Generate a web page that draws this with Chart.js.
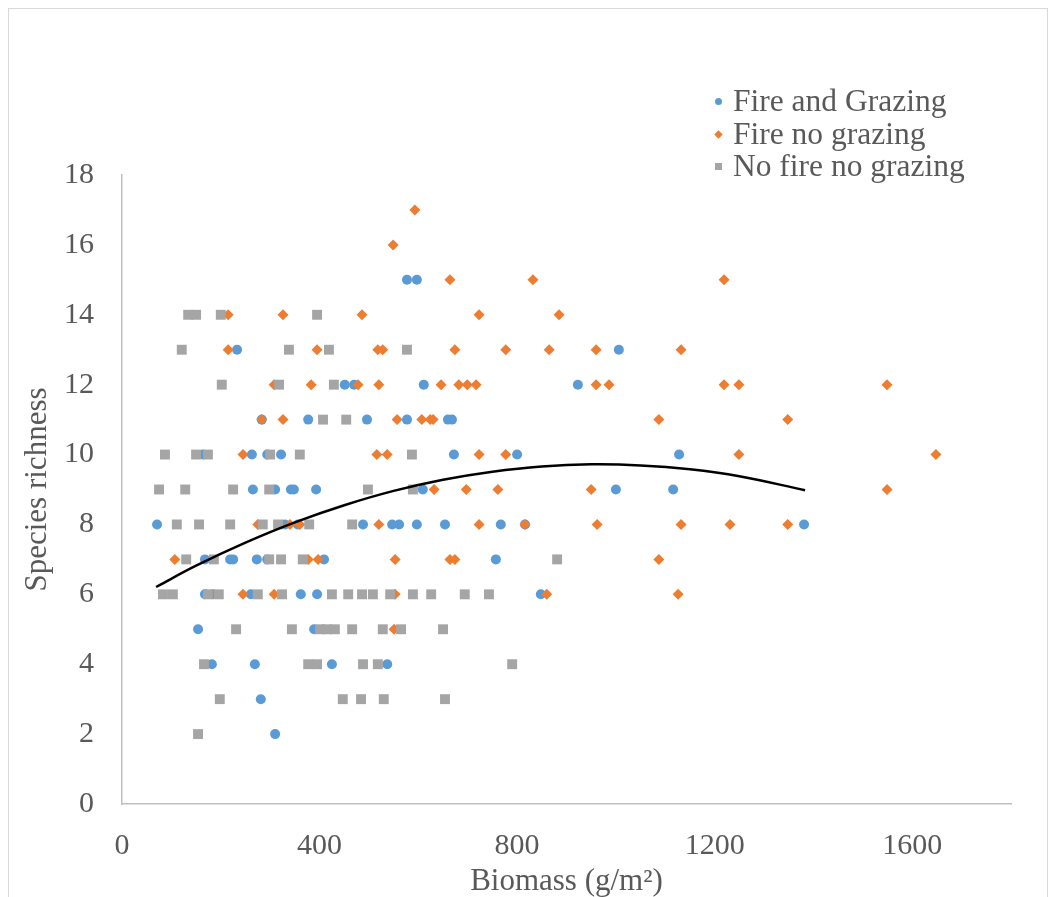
<!DOCTYPE html>
<html>
<head>
<meta charset="utf-8">
<script src="https://cdn.jsdelivr.net/npm/chart.js@4/dist/chart.umd.min.js"></script>
<style>
  body { margin: 0; background: #fff; }
  #wrap { position: relative; width: 1049px; height: 897px; overflow: hidden; }
  #frame { position: absolute; left: 8px; top: 8px; width: 1040px; height: 900px; border: 1px solid #d9d9d9; box-sizing: border-box; }
  #chart { position: absolute; left: 0; top: 0; }
  #legend { position: absolute; left: 710px; top: 85px; font: 31.5px "Liberation Serif", "Times New Roman", serif; color: #595959; }
  .row { position: relative; height: 32.5px; line-height: 32.5px; padding-left: 23px; white-space: nowrap; }
  .mk { position: absolute; left: 5px; top: 13px; width: 7px; height: 7px; }
  .mk.circle { background: #5B9BD5; border-radius: 50%; }
  .mk.diamond { background: #ED7D31; transform: rotate(45deg) scale(0.85); }
  .mk.square { background: #A5A5A5; }
</style>
</head>
<body>
<div id="wrap">
  <div id="frame"></div>
  <canvas id="chart" width="1049" height="897"></canvas>
  <div id="legend">
    <div class="row"><span class="mk circle"></span>Fire and Grazing</div>
    <div class="row"><span class="mk diamond"></span>Fire no grazing</div>
    <div class="row"><span class="mk square"></span>No fire no grazing</div>
  </div>
</div>
<script>
/* =========================
   Data (biomass g/m2, species richness)
========================= */
const fireGrazingX = [577, 597, 233, 1006, 451, 470, 611, 923,
  283, 377, 496, 577, 660, 668, 164, 263, 294, 322, 672, 800, 1128,
  265, 310, 342, 348, 393, 609, 1000, 1116,
  71, 330, 356, 488, 547, 561, 597, 654, 767, 816, 1381,
  168, 219, 225, 273, 294, 409, 757, 168, 184, 261, 362, 395, 848,
  154, 389, 182, 269, 425, 537, 281, 310];
const fireGrazingY = [15, 15, 13, 13, 12, 12, 12, 12,
  11, 11, 11, 11, 11, 11, 10, 10, 10, 10, 10, 10, 10,
  9, 9, 9, 9, 9, 9, 9, 9,
  8, 8, 8, 8, 8, 8, 8, 8, 8, 8, 8,
  7, 7, 7, 7, 7, 7, 7, 6, 6, 6, 6, 6, 6,
  5, 5, 4, 4, 4, 4, 3, 2];

const fireNoGrazingX = [593, 549, 664, 832, 1219,
  215, 326, 486, 723, 885,
  215, 395, 518, 528, 674, 777, 865, 960, 1132,
  308, 383, 478, 520, 646, 682, 699, 717, 960, 986, 1219, 1249, 1549,
  283, 326, 557, 607, 624, 630, 1087, 1348,
  245, 516, 537, 723, 777, 1249, 1648,
  632, 697, 761, 950, 1549,
  275, 340, 360, 520, 723, 816, 962, 1132, 1231, 1348,
  107, 377, 397, 553, 664, 674, 1087,
  245, 308, 553, 860, 1126, 551];
const fireNoGrazingY = [17, 16, 15, 15, 15,
  14, 14, 14, 14, 14,
  13, 13, 13, 13, 13, 13, 13, 13, 13,
  12, 12, 12, 12, 12, 12, 12, 12, 12, 12, 12, 12, 12,
  11, 11, 11, 11, 11, 11, 11, 11,
  10, 10, 10, 10, 10, 10, 10,
  9, 9, 9, 9, 9,
  8, 8, 8, 8, 8, 8, 8, 8, 8, 8,
  7, 7, 7, 7, 7, 7, 7,
  6, 6, 6, 6, 6, 5];

const noFireX = [134, 150, 200, 395, 121, 338, 419, 577,
  202, 318, 429, 407, 454,
  87, 150, 174, 300, 360, 587,
  75, 128, 225, 298, 498, 589,
  111, 156, 219, 285, 316, 379, 466,
  130, 186, 298, 322, 366, 881,
  83, 103, 174, 196, 275, 324, 425, 458, 486, 508, 543, 589, 626, 694, 743,
  231, 344, 401, 415, 431, 466, 528, 565, 650,
  166, 377, 395, 488, 518, 790,
  198, 447, 484, 530, 654, 154];
const noFireY = [14, 14, 14, 14, 13, 13, 13, 13,
  12, 12, 12, 11, 11,
  10, 10, 10, 10, 10, 10,
  9, 9, 9, 9, 9, 9,
  8, 8, 8, 8, 8, 8, 8,
  7, 7, 7, 7, 7, 7,
  6, 6, 6, 6, 6, 6, 6, 6, 6, 6, 6, 6, 6, 6, 6,
  5, 5, 5, 5, 5, 5, 5, 5, 5,
  4, 4, 4, 4, 4, 4,
  3, 3, 3, 3, 3, 2];

// polynomial trendline, values
const trendX = [69, 150, 250, 350, 450, 550, 650, 750, 850, 950, 1050, 1150, 1250, 1383];
const trendY = [6.21, 6.82, 7.48, 8.06, 8.55, 8.96, 9.28, 9.51, 9.66, 9.72, 9.69, 9.58, 9.38, 8.98];

const xTicks = { min: 0, max: 1800, step: 400 };
const yTicks = { min: 0, max: 18, step: 2 };

/* =========================
   Helpers
========================= */
function toPoints(xs, ys) {
  return xs.map((x, i) => ({ x, y: ys[i] }));
}

const FONT = '"Liberation Serif", "Times New Roman", serif';
const TEXT = "#595959";
const AXIS = "#bfbfbf";

/* =========================
   Chart
========================= */
new Chart(document.getElementById("chart"), {
  type: "scatter",
  data: {
    datasets: [
      {
        label: "Fire and Grazing",
        data: toPoints(fireGrazingX, fireGrazingY),
        pointStyle: "circle",
        pointRadius: 5,
        backgroundColor: "#5B9BD5",
        borderWidth: 0,
        order: 3
      },
      {
        label: "Fire no grazing",
        data: toPoints(fireNoGrazingX, fireNoGrazingY),
        pointStyle: "rectRot",
        pointRadius: 5.5,
        backgroundColor: "#ED7D31",
        borderWidth: 0,
        order: 2
      },
      {
        label: "No fire no grazing",
        data: toPoints(noFireX, noFireY),
        pointStyle: "rect",
        pointRadius: 7,
        backgroundColor: "#A5A5A5",
        borderWidth: 0,
        order: 1
      },
      {
        label: "Poly. (Fire and Grazing)",
        data: toPoints(trendX, trendY),
        showLine: true,
        pointRadius: 0,
        borderColor: "#000",
        borderWidth: 2.5,
        tension: 0.4,
        fill: false,
        order: 0
      }
    ]
  },
  options: {
    responsive: false,
    animation: false,
    events: [],
    layout: { padding: { top: 175, right: 38, left: 0, bottom: 0 } },
    plugins: { legend: { display: false }, tooltip: { enabled: false } },
    scales: {
      x: {
        type: "linear",
        min: xTicks.min,
        max: xTicks.max,
        grid: { display: false, drawTicks: false },
        border: { display: true, color: AXIS, width: 1.5 },
        ticks: {
          stepSize: xTicks.step,
          includeBounds: false,
          padding: 24,
          color: TEXT,
          font: { family: FONT, size: 30 },
          maxRotation: 0,
          callback: v => String(v)
        },
        title: {
          display: true,
          text: "Biomass (g/m²)",
          color: TEXT,
          font: { family: FONT, size: 31, lineHeight: 1 },
          padding: 0
        },
        afterFit: s => { s.height = 93; }
      },
      y: {
        type: "linear",
        min: yTicks.min,
        max: yTicks.max,
        grid: { display: false, drawTicks: false },
        border: { display: true, color: AXIS, width: 1.5 },
        ticks: {
          stepSize: yTicks.step,
          includeBounds: false,
          padding: 28,
          color: TEXT,
          font: { family: FONT, size: 30 },
          callback: v => String(v)
        },
        title: {
          display: true,
          text: "Species richness",
          color: TEXT,
          font: { family: FONT, size: 31, lineHeight: 1 },
          padding: { top: 22, bottom: 0 }
        },
        afterFit: s => { s.width = 122; }
      }
    }
  }
});
</script>
</body>
</html>
